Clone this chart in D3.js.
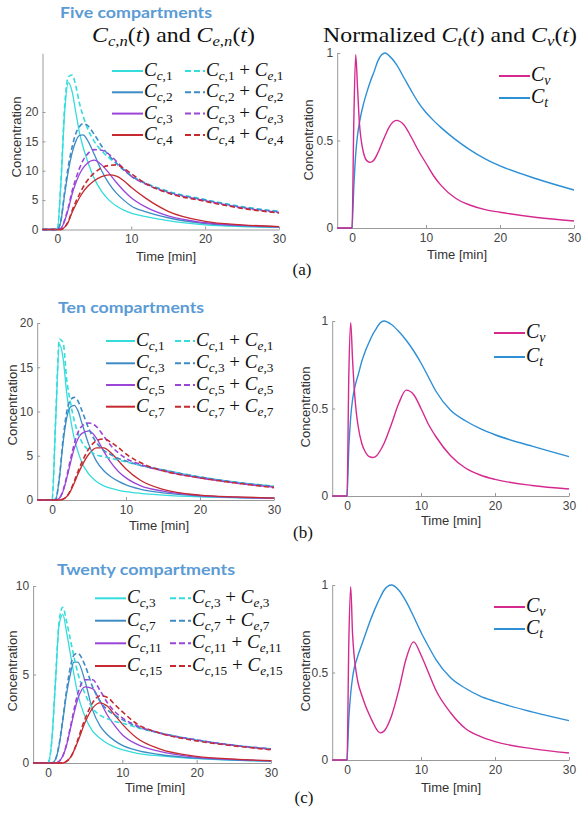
<!DOCTYPE html>
<html>
<head>
<meta charset="utf-8">
<script src="https://cdn.jsdelivr.net/npm/d3@7"></script>
<style>
  body { margin: 0; background: #fff; }
  .axis text { font-family: "Liberation Sans", Arial, sans-serif; font-size: 12px; fill: #444; }
  .axis path, .axis line { stroke: #9a9a9a; }
  .lab { font-family: "Liberation Sans", Arial, sans-serif; font-size: 13px; fill: #333; }
  .ttl { font-family: Lato, "Open Sans", sans-serif; font-weight: bold; font-size: 16px; fill: #5b9bd5; }
</style>
</head>
<body>
<script>
// time samples (minutes)
var T = [-2, 0, 0.5, 1, 1.5, 2, 2.5, 3, 3.5, 4, 5, 6, 7, 8, 9, 10, 12, 15, 20, 25, 30]
var TN = [-2, 0, 0.25, 0.5, 0.75, 1, 1.25, 1.5, 2, 2.5, 3, 3.5, 4, 4.5, 5, 6, 7, 8, 9, 10, 11, 12, 14, 16, 18, 20, 25, 30]

// five compartments: C_c,n and C_c,n + C_e,n
var five_c1 = [0, 0, 8, 20, 25, 23.5, 20, 16.5, 14, 12, 8.7, 6.5, 5.0, 4.0, 3.3, 2.8, 2.2, 1.5, 0.8, 0.5, 0.35]
var five_c2 = [0, 0, 1.5, 6, 10, 13, 15, 16, 16.1, 15.4, 12.8, 10, 7.8, 6.2, 5.0, 4.0, 3.0, 2.0, 1.0, 0.6, 0.4]
var five_c3 = [0, 0, 0.2, 1.5, 3.5, 6, 7.9, 9.4, 10.5, 11.2, 11.8, 11, 9.6, 8.0, 6.6, 5.4, 3.8, 2.3, 1.15, 0.7, 0.45]
var five_c4 = [0, 0, 0, 0.4, 1.3, 2.9, 4.2, 5.4, 6.4, 7.2, 8.3, 9.0, 9.3, 9.1, 8.3, 7.2, 5.3, 3.1, 1.4, 0.8, 0.5]
var five_s1 = [0, 0, 8.5, 21, 26, 26.3, 24.5, 21.5, 19.3, 17.5, 15, 13.4, 12.2, 11.2, 10.2, 9.2, 7.9, 6.5, 5.1, 3.9, 3.1]
var five_s2 = [0, 0, 1.6, 6.5, 10.8, 14, 16.3, 17.5, 18, 17.8, 16.2, 14.2, 12.6, 11.3, 10.1, 9.1, 7.8, 6.4, 5.0, 3.8, 3.0]
var five_s3 = [0, 0, 0.2, 1.6, 3.8, 6.5, 8.6, 10.4, 11.8, 12.7, 13.6, 13.5, 12.8, 11.6, 10.3, 9.1, 7.7, 6.3, 4.9, 3.7, 2.9]
var five_s4 = [0, 0, 0, 0.4, 1.4, 3.2, 4.7, 6.0, 7.2, 8.2, 9.6, 10.5, 10.9, 11, 10.4, 9.5, 7.8, 6.2, 4.8, 3.6, 2.8]

// ten compartments
var ten_c1 = [0, 0, 9, 17.6, 16, 12, 9.2, 7, 5.5, 4.3, 2.9, 2.1, 1.6, 1.3, 1.1, 0.95, 0.75, 0.55, 0.35, 0.25, 0.18]
var ten_c3 = [0, 0, 0.1, 2.5, 6.5, 9.3, 10.5, 10.7, 10.1, 8.8, 6.2, 4.4, 3.3, 2.6, 2.1, 1.7, 1.2, 0.8, 0.45, 0.3, 0.2]
var ten_c5 = [0, 0, 0, 0.2, 1, 2.5, 4.2, 5.8, 6.9, 7.5, 7.8, 7, 5.5, 4.2, 3.2, 2.5, 1.6, 1.0, 0.5, 0.3, 0.2]
var ten_c7 = [0, 0, 0, 0, 0.1, 0.4, 1.0, 1.9, 2.9, 3.8, 5.2, 5.9, 5.9, 5.3, 4.4, 3.5, 2.2, 1.2, 0.55, 0.35, 0.22]
var ten_s1 = [0, 0, 9.3, 18.2, 17.8, 13.5, 11, 9, 7.6, 6.6, 5.6, 5.1, 4.9, 4.7, 4.5, 4.3, 3.9, 3.4, 2.6, 2.0, 1.55]
var ten_s3 = [0, 0, 0.1, 2.6, 6.9, 10, 11.3, 11.6, 11.2, 10.2, 8, 6.5, 5.6, 5.1, 4.7, 4.4, 3.9, 3.4, 2.6, 2.0, 1.55]
var ten_s5 = [0, 0, 0, 0.2, 1.1, 2.7, 4.6, 6.3, 7.6, 8.3, 8.7, 8.3, 7.2, 6.1, 5.3, 4.7, 4.0, 3.3, 2.5, 1.9, 1.45]
var ten_s7 = [0, 0, 0, 0, 0.1, 0.4, 1.1, 2.1, 3.2, 4.2, 5.8, 6.7, 6.9, 6.5, 5.9, 5.2, 4.2, 3.3, 2.5, 1.9, 1.4]

// twenty compartments
var tw_c3 = [0, 0, 1.2, 4.5, 7.8, 8.4, 7.4, 6.2, 5.0, 3.9, 2.6, 1.8, 1.4, 1.1, 0.9, 0.75, 0.55, 0.4, 0.25, 0.16, 0.1]
var tw_c7 = [0, 0, 0, 0.2, 1.0, 2.4, 3.9, 5.0, 5.7, 5.7, 4.6, 3.0, 2.1, 1.6, 1.25, 1.0, 0.72, 0.48, 0.27, 0.17, 0.11]
var tw_c11 = [0, 0, 0, 0, 0.1, 0.4, 1.0, 1.9, 2.8, 3.6, 4.3, 4.2, 3.5, 2.7, 2.1, 1.6, 1.05, 0.65, 0.32, 0.2, 0.12]
var tw_c15 = [0, 0, 0, 0, 0, 0, 0.1, 0.3, 0.7, 1.2, 2.3, 3.1, 3.4, 3.2, 2.7, 2.2, 1.4, 0.8, 0.38, 0.22, 0.13]
var tw_s3 = [0, 0, 1.2, 4.6, 8.0, 8.8, 8.0, 7.0, 6.0, 5.1, 3.9, 3.1, 2.7, 2.5, 2.35, 2.25, 2.0, 1.7, 1.3, 1.0, 0.8]
var tw_s7 = [0, 0, 0, 0.2, 1.05, 2.5, 4.1, 5.4, 6.1, 6.2, 5.5, 4.3, 3.5, 3.0, 2.7, 2.45, 2.05, 1.7, 1.3, 1.0, 0.8]
var tw_s11 = [0, 0, 0, 0, 0.1, 0.4, 1.05, 2.0, 3.0, 3.9, 4.7, 4.7, 4.1, 3.4, 2.9, 2.55, 2.1, 1.7, 1.3, 1.0, 0.78]
var tw_s15 = [0, 0, 0, 0, 0, 0, 0.1, 0.3, 0.7, 1.3, 2.5, 3.4, 3.8, 3.7, 3.3, 2.9, 2.2, 1.7, 1.25, 0.97, 0.75]

// normalized C_v and C_t (sampled at TN)
var cv_a = [0, 0, 0.62, 0.99, 0.8, 0.6, 0.5, 0.44, 0.385, 0.375, 0.39, 0.43, 0.48, 0.53, 0.575, 0.615, 0.59, 0.52, 0.44, 0.37, 0.3, 0.245, 0.17, 0.13, 0.105, 0.09, 0.06, 0.04]
var ct_a = [0, 0, 0.24, 0.42, 0.53, 0.6, 0.655, 0.7, 0.775, 0.84, 0.895, 0.955, 0.99, 1.0, 0.985, 0.935, 0.86, 0.785, 0.715, 0.66, 0.615, 0.575, 0.505, 0.445, 0.395, 0.355, 0.28, 0.217]
var cv_b = [0, 0, 0.7, 0.99, 0.78, 0.6, 0.48, 0.4, 0.3, 0.25, 0.225, 0.22, 0.23, 0.26, 0.3, 0.41, 0.53, 0.605, 0.58, 0.5, 0.41, 0.34, 0.23, 0.16, 0.12, 0.095, 0.06, 0.04]
var ct_b = [0, 0, 0.28, 0.45, 0.55, 0.61, 0.655, 0.69, 0.77, 0.83, 0.88, 0.925, 0.96, 0.99, 1.0, 0.98, 0.94, 0.89, 0.83, 0.76, 0.68, 0.6, 0.49, 0.43, 0.385, 0.35, 0.285, 0.225]
var cv_c = [0, 0, 0.68, 0.99, 0.72, 0.58, 0.5, 0.44, 0.37, 0.31, 0.26, 0.215, 0.175, 0.155, 0.165, 0.25, 0.4, 0.58, 0.675, 0.6, 0.5, 0.4, 0.27, 0.18, 0.135, 0.105, 0.065, 0.04]
var ct_c = [0, 0, 0.24, 0.38, 0.47, 0.53, 0.565, 0.6, 0.66, 0.72, 0.78, 0.835, 0.885, 0.93, 0.97, 1.0, 0.97, 0.905, 0.82, 0.73, 0.65, 0.575, 0.47, 0.41, 0.365, 0.335, 0.275, 0.225]

// labels
var titles = ["Five compartments", "Ten compartments", "Twenty compartments"]
var compIdx = [["1", "2", "3", "4"], ["1", "3", "5", "7"], ["3", "7", "11", "15"]]
var xTicks = [0, 10, 20, 30]
var yTicksLeft = [[0, 5, 10, 15, 20], [0, 5, 10, 15, 20], [0, 5, 10]]
var yTicksRight = [0, 0.5, 1]
var panelTags = ["(a)", "(b)", "(c)"]

var colors = ["#35dcdc", "#3d8cc6", "#9a45d8", "#c42a2f"]
var pink = "#d5298f", blue = "#2d8fd5"

var w = 582, h = 819
var svg = d3.select("body").append("svg").attr("width", w).attr("height", h)

svg.append("clipPath").attr("id", "leftclip")
   .append("rect").attr("x", 0).attr("y", 0).attr("width", 289).attr("height", h)

// layout of each row (pixels)
var rows = [
  {L: {x0: 42.5, x1: 279, yb: 229.5, yt: 53.25, ymax: 30}, R: {x0: 337.2, x1: 574, yb: 228, yt: 53},
   title: {x: 60, y: 18, w: 152}, legY: [71, 92.3, 113.6, 135], sx: [112, 143], dx: [185, 205],
   xlabL: [166, 260.5], ylabL: [16, 137], xlabR: [457, 259], ylabR: [308, 140],
   rlegY: [76, 98], rlx: [499, 530], tag: [302, 275]},
  {L: {x0: 37.2, x1: 274, yb: 500, yt: 323, ymax: 20}, R: {x0: 332.2, x1: 569, yb: 496, yt: 321},
   title: {x: 58, y: 313, w: 146}, legY: [341, 363.3, 385, 406.7], sx: [106, 135], dx: [175, 195],
   xlabL: [159, 530], ylabL: [12, 405], xlabR: [451, 525], ylabR: [305, 407],
   rlegY: [333, 357], rlx: [494, 525], tag: [303, 538]},
  {L: {x0: 33.1, x1: 271, yb: 763, yt: 586, ymax: 10}, R: {x0: 332.2, x1: 569, yb: 760, yt: 585},
   title: {x: 57, y: 575, w: 178}, legY: [598.3, 620.7, 643.3, 666], sx: [95, 126], dx: [170, 191],
   xlabL: [155, 791.5], ylabL: [12, 671], xlabR: [451, 791.5], ylabR: [305, 671],
   rlegY: [607, 629], rlx: [494, 525], tag: [304, 803]}
]

var solids = [[five_c1, five_c2, five_c3, five_c4], [ten_c1, ten_c3, ten_c5, ten_c7], [tw_c3, tw_c7, tw_c11, tw_c15]]
var dashes = [[five_s1, five_s2, five_s3, five_s4], [ten_s1, ten_s3, ten_s5, ten_s7], [tw_s3, tw_s7, tw_s11, tw_s15]]
var normV = [cv_a, cv_b, cv_c]
var normT = [ct_a, ct_b, ct_c]

function tex(g, x, y, size, src, fitW) {
  /* tiny latex-ish renderer: _{..} subscript, "..." roman text */
  var runs = [], sub = false, roman = false
  for (var i = 0; i < src.length; i++) {
    var ch = src[i]
    if (ch === "_" && src[i + 1] === "{") { sub = true; i++; continue }
    if (ch === "}" && sub) { sub = false; continue }
    if (ch === '"') { roman = !roman; continue }
    var it = !roman && /[A-Za-z]/.test(ch)
    var last = runs[runs.length - 1]
    if (last && last.it === it && last.sub === sub) last.s += ch
    else runs.push({s: ch, it: it, sub: sub})
  }
  var t = g.append("text")
           .attr("transform", "translate(" + x + "," + y + ")")
           .style("font-family", "'Liberation Serif','Times New Roman',serif")
           .style("font-size", size + "px")
           .style("white-space", "pre")
           .attr("fill", "#111")
  var down = false
  runs.forEach(function(r) {
    var ts = t.append("tspan").text(r.s).style("font-style", r.it ? "italic" : "normal")
    if (r.sub) ts.style("font-size", (size * 0.7) + "px")
    if (r.sub && !down) { ts.attr("dy", size * 0.22); down = true }
    else if (!r.sub && down) { ts.attr("dy", -size * 0.22); down = false }
  })
  if (fitW) {
    var len = t.node().getComputedTextLength()
    t.attr("transform", "translate(" + x + "," + y + ") scale(" + (fitW / len) + ",1)")
  }
  return t
}

function drawAxes(g, xs, ys, yticks, fmt) {
  g.append("g").attr("class", "axis")
   .attr("transform", "translate(0," + ys.range()[0] + ")")
   .call(d3.axisBottom(xs).tickValues(xTicks).tickSize(-3).tickSizeOuter(0).tickPadding(5))
  g.append("g").attr("class", "axis")
   .attr("transform", "translate(" + xs.range()[0] + ",0)")
   .call(d3.axisLeft(ys).tickValues(yticks).tickSize(-3).tickSizeOuter(0).tickPadding(4).tickFormat(fmt))
}

function labels(g, xl, yl) {
  g.append("text").attr("class", "lab").attr("x", xl[0]).attr("y", xl[1])
   .attr("text-anchor", "middle").text("Time [min]")
  g.append("text").attr("class", "lab")
   .attr("transform", "translate(" + (yl[0] + 4.5) + "," + yl[1] + ") rotate(-90)")
   .attr("text-anchor", "middle").text("Concentration")
}

rows.forEach(function(r, k) {
  // ---- left panel
  var gl = svg.append("g").attr("clip-path", "url(#leftclip)")
  var xs = d3.scaleLinear().domain([-2, 30]).range([r.L.x0, r.L.x1])
  var ys = d3.scaleLinear().domain([0, r.L.ymax]).range([r.L.yb, r.L.yt])
  drawAxes(gl, xs, ys, yTicksLeft[k], d3.format("d"))
  labels(gl, r.xlabL, r.ylabL)

  var line = d3.line().x(function(d, i) { return xs(T[i]) }).y(function(d) { return ys(d) })
               .curve(d3.curveMonotoneX)
  solids[k].forEach(function(s, j) {
    gl.append("path").attr("d", line(s)).attr("fill", "none")
      .attr("stroke", colors[j]).attr("stroke-width", 1.3)
  })
  dashes[k].forEach(function(s, j) {
    gl.append("path").attr("d", line(s)).attr("fill", "none")
      .attr("stroke", colors[j]).attr("stroke-width", 1.6).attr("stroke-dasharray", "5,3")
  })

  // legend
  compIdx[k].forEach(function(n, j) {
    var y = r.legY[j]
    gl.append("line").attr("x1", r.sx[0]).attr("x2", r.sx[1]).attr("y1", y).attr("y2", y)
      .attr("stroke", colors[j]).attr("stroke-width", 2)
    tex(gl, r.sx[1] + 1, y + 5, 19, "C_{c," + n + "}")
    gl.append("line").attr("x1", r.dx[0]).attr("x2", r.dx[1]).attr("y1", y).attr("y2", y)
      .attr("stroke", colors[j]).attr("stroke-width", 2).attr("stroke-dasharray", "6,3")
    tex(gl, r.dx[1] + 1, y + 5, 19, "C_{c," + n + "} + C_{e," + n + "}")
  })

  svg.append("text").attr("class", "ttl").attr("x", r.title.x).attr("y", r.title.y)
     .attr("textLength", r.title.w).attr("lengthAdjust", "spacingAndGlyphs").text(titles[k])

  // ---- right panel
  var gr = svg.append("g")
  var xr = d3.scaleLinear().domain([-2, 30]).range([r.R.x0, r.R.x1])
  var yr = d3.scaleLinear().domain([0, 1]).range([r.R.yb, r.R.yt])
  drawAxes(gr, xr, yr, yTicksRight, function(d) { return d === 0.5 ? "0.5" : d3.format("d")(d) })
  labels(gr, r.xlabR, r.ylabR)
  var lineR = d3.line().x(function(d, i) { return xr(TN[i]) }).y(function(d) { return yr(d) })
                .curve(d3.curveMonotoneX)
  gr.append("path").attr("d", lineR(normT[k])).attr("fill", "none").attr("stroke", blue).attr("stroke-width", 1.4)
  gr.append("path").attr("d", lineR(normV[k])).attr("fill", "none").attr("stroke", pink).attr("stroke-width", 1.4)

  var leg = [[pink, "C_{v}"], [blue, "C_{t}"]]
  leg.forEach(function(e, j) {
    var y = r.rlegY[j]
    gr.append("line").attr("x1", r.rlx[0]).attr("x2", r.rlx[1]).attr("y1", y).attr("y2", y)
      .attr("stroke", e[0]).attr("stroke-width", 2)
    tex(gr, r.rlx[1] + 1, y + 5, 20, e[1])
  })

  svg.append("text").attr("x", r.tag[0]).attr("y", r.tag[1]).attr("text-anchor", "middle")
     .style("font-family", "'Liberation Serif','Times New Roman',serif").style("font-size", "17px")
     .attr("fill", "#111").text(panelTags[k])
})

// math titles of the top row
tex(svg, 92, 41.5, 21, 'C_{c,n}(t)" and "C_{e,n}(t)', 163)
tex(svg, 323, 41.5, 21, '"Normalized "C_{t}(t)" and "C_{v}(t)', 254)
</script>
</body>
</html>
